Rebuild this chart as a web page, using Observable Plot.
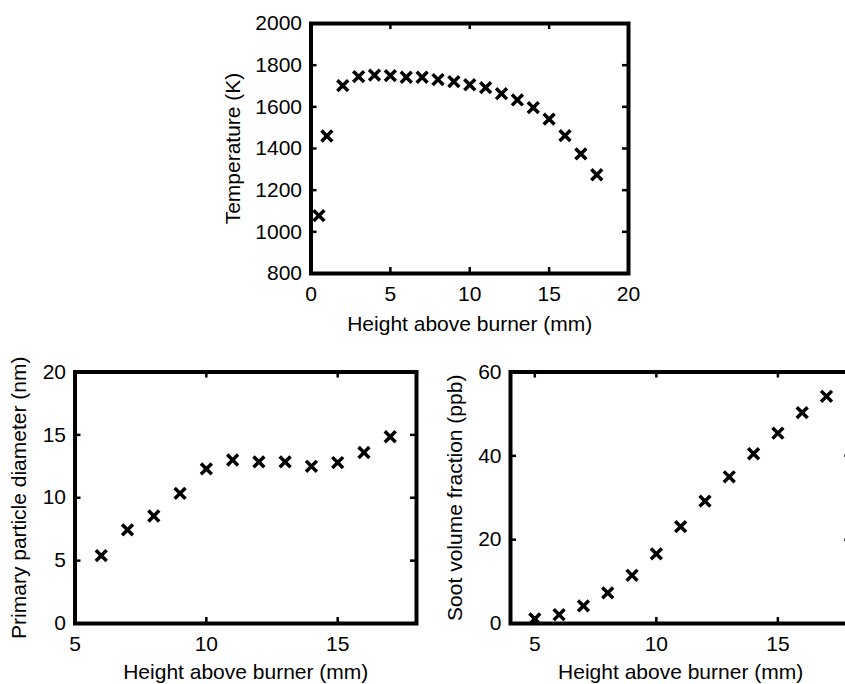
<!DOCTYPE html>
<html>
<head>
<meta charset="utf-8">
<script src="https://cdn.jsdelivr.net/npm/d3@7"></script>
<script src="https://cdn.jsdelivr.net/npm/@observablehq/plot@0.6"></script>
<style>
  html, body { margin: 0; padding: 0; background: #fff; overflow: hidden; }
  #wrap { position: relative; width: 845px; height: 684px; overflow: hidden; background: #fff; }
  #wrap > div { position: absolute; }
  #wrap svg { max-width: none !important; }
</style>
</head>
<body>
<div id="wrap">
  <div id="top" style="left:200px; top:0px;"></div>
  <div id="bl" style="left:0px; top:330px;"></div>
  <div id="br" style="left:420px; top:330px;"></div>
</div>
<script>
// ---- Data ----
const tempHeight = [0.5, 1, 2, 3, 4, 5, 6, 7, 8, 9, 10, 11, 12, 13, 14, 15, 16, 17, 18];
const tempK = [1078, 1460, 1702, 1745, 1752, 1750, 1742, 1742, 1731, 1721, 1706, 1692, 1663, 1633, 1596, 1541, 1462, 1374, 1274];

const diamHeight = [6, 7, 8, 9, 10, 11, 12, 13, 14, 15, 16, 17];
const diamNm = [5.4, 7.45, 8.55, 10.35, 12.3, 13.0, 12.85, 12.85, 12.5, 12.8, 13.6, 14.85];

const sootHeight = [5, 6, 7, 8, 9, 10, 11, 12, 13, 14, 15, 16, 17];
const sootPpb = [1.1, 2.1, 4.2, 7.3, 11.5, 16.6, 23.1, 29.2, 35.0, 40.5, 45.4, 50.3, 54.2];

const xTicksTop = [0, 5, 10, 15, 20];
const yTicksTop = [800, 1000, 1200, 1400, 1600, 1800, 2000];
const xTicksBottom = [5, 10, 15];
const yTicksDiam = [0, 5, 10, 15, 20];
const yTicksSoot = [0, 20, 40, 60];

const xLabel = "Height above burner (mm)";
const yLabelTemp = "Temperature (K)";
const yLabelDiam = "Primary particle diameter (nm)";
const yLabelSoot = "Soot volume fraction (ppb)";

// ---- Panel builder ----
function panel({xs, ys, xDomain, yDomain, xTicks, yTicks, xTitle, yTitle,
                width, height, margins, yTitleDx, xTitleDy}) {
  const [mt, mr, mb, ml] = margins;
  const iw = width - ml - mr;
  const ih = height - mt - mb;
  const tl = 6;
  const data = xs.map((x, i) => ({x, y: ys[i]}));
  return Plot.plot({
    width, height,
    marginTop: mt, marginRight: mr, marginBottom: mb, marginLeft: ml,
    style: {fontSize: "21px", fontFamily: "'Liberation Sans', Arial, sans-serif", color: "#000", background: "transparent", overflow: "visible"},
    x: {domain: xDomain, ticks: xTicks, tickSize: 0, tickPadding: 13, label: null, tickFormat: d => String(d)},
    y: {domain: yDomain, ticks: yTicks, tickSize: 0, tickPadding: 9, label: null, tickFormat: d => String(d)},
    marks: [
      // inward ticks, all four sides
      Plot.tickX(xTicks, {x: d => d, insetTop: ih - tl, stroke: "#000", strokeWidth: 2.5}),
      Plot.tickX(xTicks, {x: d => d, insetBottom: ih - tl, stroke: "#000", strokeWidth: 2.5}),
      Plot.tickY(yTicks, {y: d => d, insetRight: iw - tl, stroke: "#000", strokeWidth: 2.5}),
      Plot.tickY(yTicks, {y: d => d, insetLeft: iw - tl, stroke: "#000", strokeWidth: 2.5}),
      Plot.frame({stroke: "#000", strokeWidth: 4}),
      Plot.dot(data, {x: "x", y: "y", symbol: "times", r: 5, stroke: "#000", strokeWidth: 3.5}),
      Plot.text([xTitle], {text: d => d, frameAnchor: "bottom", textAnchor: "middle", lineAnchor: "bottom", dy: xTitleDy, fill: "#000"}),
      Plot.text([yTitle], {text: d => d, frameAnchor: "left", textAnchor: "middle", rotate: -90, lineAnchor: "bottom", dx: yTitleDx, fill: "#000"})
    ]
  });
}

document.getElementById("top").append(panel({
  xs: tempHeight, ys: tempK, xDomain: [0, 20], yDomain: [800, 2000],
  xTicks: xTicksTop, yTicks: yTicksTop, xTitle: xLabel, yTitle: yLabelTemp,
  width: 460, height: 340, margins: [23, 32, 67, 110.5], yTitleDx: -71.5, xTitleDy: 57
}));

document.getElementById("bl").append(panel({
  xs: diamHeight, ys: diamNm, xDomain: [5, 18], yDomain: [0, 20],
  xTicks: xTicksBottom, yTicks: yTicksDiam, xTitle: xLabel, yTitle: yLabelDiam,
  width: 440, height: 354, margins: [41.5, 24, 61, 74.5], yTitleDx: -49.5, xTitleDy: 55
}));

document.getElementById("br").append(panel({
  xs: sootHeight, ys: sootPpb, xDomain: [4, 18], yDomain: [0, 60],
  xTicks: xTicksBottom, yTicks: yTicksSoot, xTitle: xLabel, yTitle: yLabelSoot,
  width: 460, height: 354, margins: [41.5, 29.7, 61, 90], yTitleDx: -49, xTitleDy: 55
}));
</script>
</body>
</html>
